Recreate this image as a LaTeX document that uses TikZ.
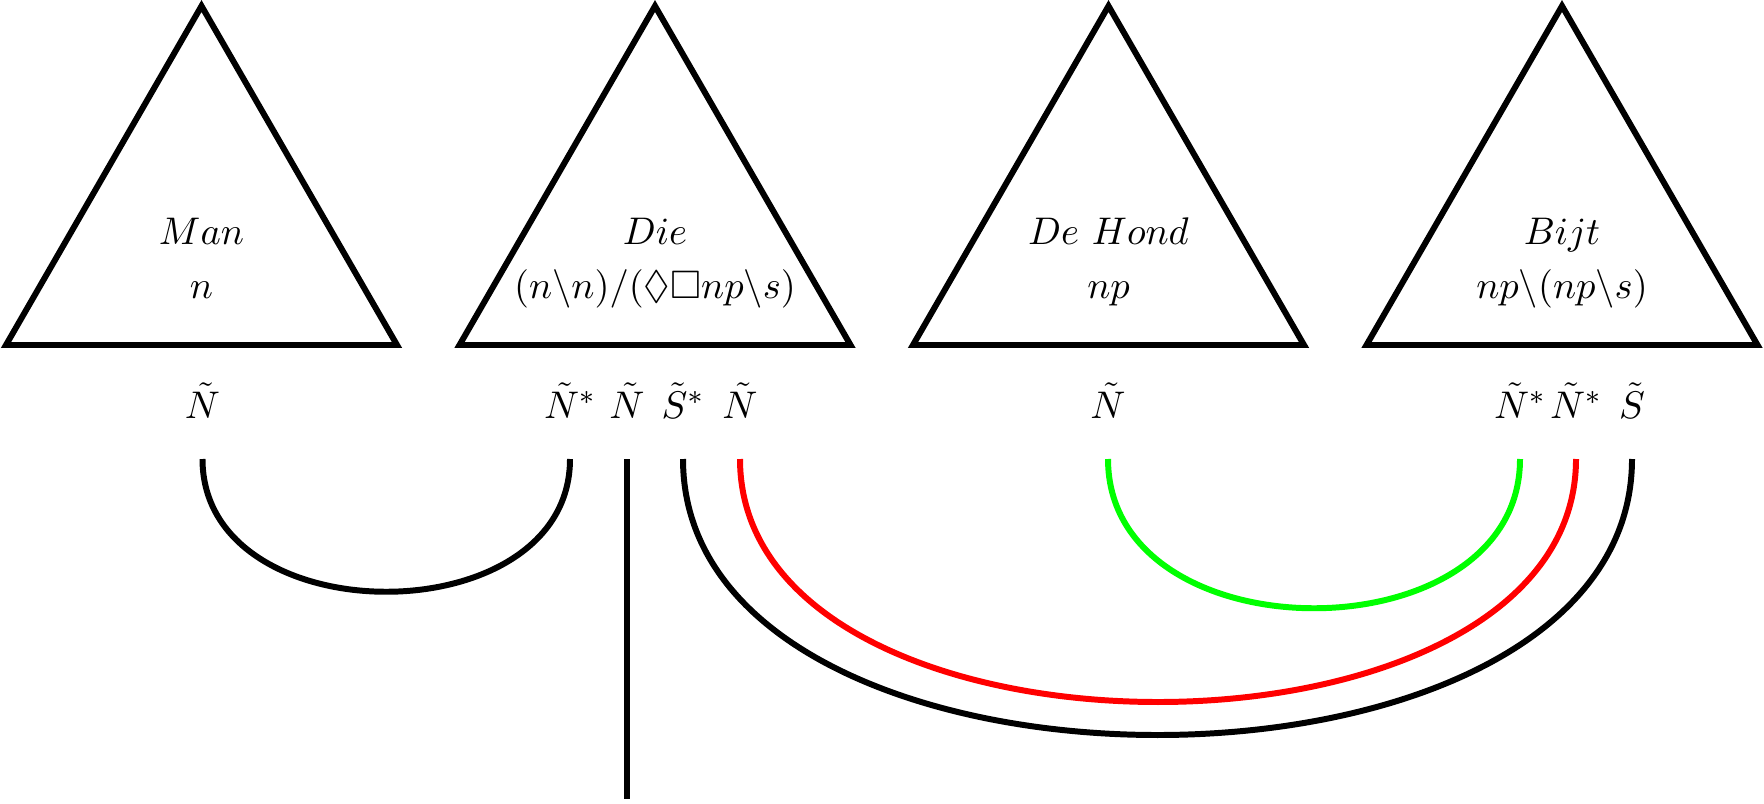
\documentclass[tikz,border=0pt]{standalone}
\usepackage{amssymb}
\begin{document}
\begin{tikzpicture}[x=0.01cm,y=-0.01cm,line width=1.7pt,
  tri/.style={draw=black,line join=miter},
  txt/.style={anchor=base,inner sep=0pt,font=\fontsize{11.3}{13.5}\selectfont},
  link/.style={draw=black,line width=1.7pt},
  linkred/.style={link,draw=red},
  linkgreen/.style={link,draw=green}]
\useasboundingbox (0,0) rectangle (1764,803);
% triangles
\foreach \c in {201.5,655,1108.5,1562}{
  \draw[tri] (\c-195.5,345) -- (\c,6) -- (\c+195.5,345) -- cycle;
}
% triangle texts
\node[txt] (w1) at (201.5,244) {$Man$};
\node[txt] (c1) at (201.5,298) {$n$};
\node[txt] (w2) at (655,244) {$Die$};
\node[txt] (c2) at (655,298) {$(n\backslash n)/(\Diamond\Box np\backslash s)$};
\node[txt] (w3) at (1108.5,244) {$De\ Hond$};
\node[txt] (c3) at (1108.5,298) {$np$};
\node[txt] (w4) at (1562,244) {$Bijt$};
\node[txt] (c4) at (1562,298) {$np\backslash(np\backslash s)$};
% atom labels
\node[txt] (a1) at (202.5,418) {$\tilde{N}$};
\node[txt] (a2) at (570,418) {$\tilde{N}^*$};
\node[txt] (a3) at (627,418) {$\tilde{N}$};
\node[txt] (a4) at (683,418) {$\tilde{S}^*$};
\node[txt] (a5) at (740,418) {$\tilde{N}$};
\node[txt] (a6) at (1108,418) {$\tilde{N}$};
\node[txt] (a7) at (1520,418) {$\tilde{N}^*$};
\node[txt] (a8) at (1576,418) {$\tilde{N}^*$};
\node[txt] (a9) at (1632,418) {$\tilde{S}$};
\coordinate (top) at (0,459);
\coordinate (bot) at (0,799);
% axiom links
\draw[link] (a1 |- top) .. controls +(0,177) and +(0,177) .. (a2 |- top);
\draw[link] (a3 |- top) -- (a3 |- bot);
\draw[link] (a4 |- top) .. controls +(0,368) and +(0,368) .. (a9 |- top);
\draw[linkred] (a5 |- top) .. controls +(0,324) and +(0,324) .. (a8 |- top);
\draw[linkgreen] (a6 |- top) .. controls +(0,199) and +(0,199) .. (a7 |- top);
\end{tikzpicture}
\end{document}
